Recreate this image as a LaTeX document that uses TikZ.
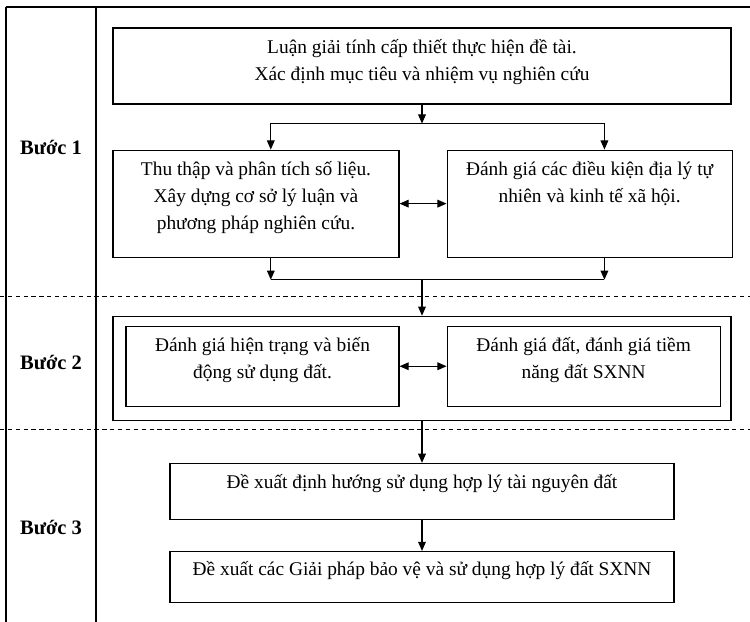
\documentclass[tikz,border=0pt]{standalone}
\usepackage{fontspec}
\setmainfont{Liberation Serif}
\usetikzlibrary{arrows.meta, positioning}

\begin{document}
\begin{tikzpicture}[
  every node/.style={font=\fontsize{13.8}{19.2}\selectfont},
  box/.style={draw, line width=0.8pt, align=center, inner sep=0pt},
  groupbox/.style={draw, line width=0.8pt, inner sep=0pt},
  steplabel/.style={font=\fontsize{14.6}{16}\selectfont\bfseries},
  arr/.style={line width=0.8pt, -{Triangle[length=6.5pt, width=5.5pt]}},
  dblarr/.style={line width=0.8pt, {Triangle[length=6.5pt, width=5.5pt]}-{Triangle[length=6.5pt, width=5.5pt]}},
  frameline/.style={line width=0.8pt},
  sepline/.style={line width=0.7pt, dash pattern=on 3pt off 2.6pt}
]
\useasboundingbox (0,0) rectangle (18.75,-15.55);

% Frame and step separators
\draw[frameline] (0.15,-0.175) -- (18.75,-0.175);
\draw[frameline] (0.15,-0.175) -- (0.15,-15.55);
\draw[frameline] (2.4,-0.175) -- (2.4,-15.55);
\draw[sepline] (0,-7.4) -- (18.75,-7.4);
\draw[sepline] (0,-10.725) -- (18.75,-10.725);

% Step labels
\node[steplabel] (step1) at (1.275,-3.675) {Bước 1};
\node[steplabel] (step2) at (1.275,-9.05) {Bước 2};
\node[steplabel] (step3) at (1.275,-13.175) {Bước 3};

% Step 1
\node[box, minimum width=15.45cm, minimum height=1.9cm, text depth=0.3cm] (intro) at (10.55,-1.65) {Luận giải tính cấp thiết thực hiện đề tài.\\Xác định mục tiêu và nhiệm vụ nghiên cứu};
\node[box, minimum width=7.15cm, minimum height=2.675cm, text depth=0.425cm, below=1.125cm of intro.south west, anchor=north west] (data) {Thu thập và phân tích số liệu.\\Xây dựng cơ sở lý luận và\\phương pháp nghiên cứu.};
\node[box, minimum width=7.125cm, minimum height=2.675cm, text depth=1.075cm, right=1.175cm of data] (cond) {Đánh giá các điều kiện địa lý tự\\nhiên và kinh tế xã hội.};

% Step 2
\node[groupbox, minimum width=15.45cm, minimum height=2.6cm, below=1.45cm of data.south west, anchor=north west] (grp) {};
\node[box, minimum width=6.825cm, minimum height=2.0cm, text depth=0.4cm, below right=0.25cm and 0.325cm of grp.north west] (usage) {Đánh giá hiện trạng và biến\\động sử dụng đất.};
\node[box, minimum width=6.825cm, minimum height=2.0cm, text depth=0.4cm, right=1.175cm of usage] (land) {Đánh giá đất, đánh giá tiềm\\năng đất SXNN};

% Step 3
\node[box, minimum width=12.6cm, minimum height=1.4cm, text depth=0.475cm, below=1.05cm of grp] (orient) {Đề xuất định hướng sử dụng hợp lý tài nguyên đất};
\node[box, minimum width=12.6cm, minimum height=1.275cm, text depth=0.45cm, below=0.775cm of orient] (sol) {Đề xuất các Giải pháp bảo vệ và sử dụng hợp lý đất SXNN};

% Split from intro
\draw[arr] (intro.south) -- ++(0,-0.475) coordinate (split);
\draw[arr] (split) -| ([xshift=0.37cm]data.north);
\draw[arr] (split) -| ([xshift=0.37cm]cond.north);
\draw[dblarr] (data) -- (cond);

% Merge into step 2
\draw[arr] ([xshift=0.37cm]data.south) -- ++(0,-0.55) coordinate (jl);
\draw[arr] ([xshift=0.37cm]cond.south) -- ++(0,-0.55) coordinate (jr);
\draw[frameline] (jl) -- (jr);
\draw[arr] (jl -| intro.south) -- (grp.north);
\draw[dblarr] (usage) -- (land);

% Step 2 to step 3
\draw[arr] (grp.south) -- (orient.north);
\draw[arr] (orient) -- (sol);

\end{tikzpicture}
\end{document}
